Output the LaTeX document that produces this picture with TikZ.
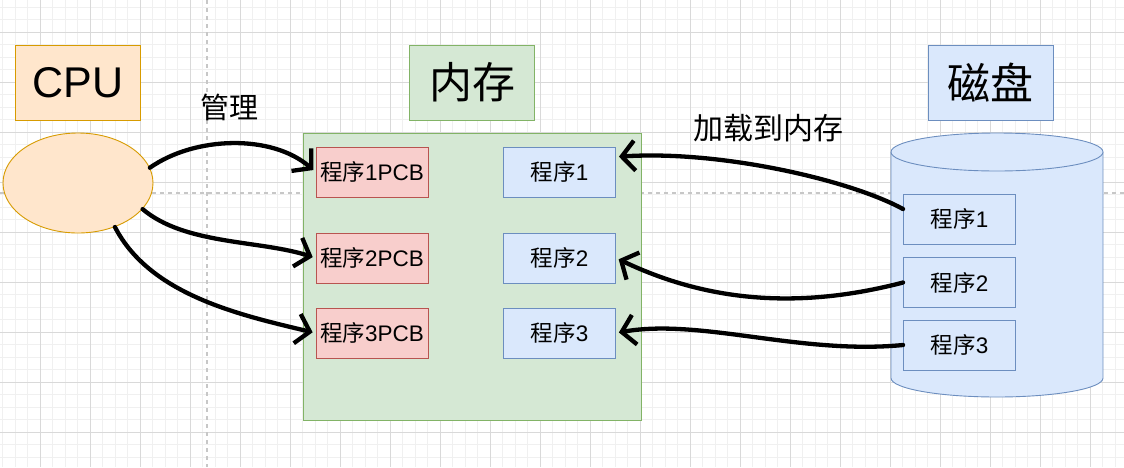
\documentclass[tikz,border=0pt]{standalone}
\usepackage{fontspec}
\setmainfont{Liberation Sans}
\newfontfamily\cjk{Noto Sans CJK SC}
\usetikzlibrary{arrows.meta,shapes.geometric}
\definecolor{cpufill}{HTML}{FFE6CC}
\definecolor{cpuline}{HTML}{D79B00}
\definecolor{memfill}{HTML}{D5E8D4}
\definecolor{memline}{HTML}{82B366}
\definecolor{pcbfill}{HTML}{F8CECC}
\definecolor{pcbline}{HTML}{B85450}
\definecolor{diskfill}{HTML}{DAE8FC}
\definecolor{diskline}{HTML}{6C8EBF}
\begin{document}
\begin{tikzpicture}[x=1pt,y=-1pt,
  minorgrid/.style={draw=black!6, line width=0.8pt},
  majorgrid/.style={draw=black!15, line width=0.8pt},
  pagebreak/.style={draw=black!22, line width=1.2pt, dash pattern=on 4pt off 4pt},
  headbox/.style={draw, line width=0.9pt, inner sep=0pt, minimum width=125pt, minimum height=75pt, font=\fontsize{43}{50}\selectfont},
  smallbox/.style={draw, line width=0.9pt, inner sep=0pt, minimum width=112pt, minimum height=50pt, font=\fontsize{22.5}{26}\selectfont},
  cpucol/.style={fill=cpufill, draw=cpuline},
  memcol/.style={fill=memfill, draw=memline},
  pcbcol/.style={fill=pcbfill, draw=pcbline},
  diskcol/.style={fill=diskfill, draw=diskline},
  arr/.style={line width=4.3pt, line cap=round, line join=round, shorten >=3pt, -{Straight Barb[length=13pt, width=30pt]}}]
\useasboundingbox (0,0) rectangle (1124,467);
\fill[white] (0,0) rectangle (1124,467);
\foreach \gx in {2.5,15,...,1124} \draw[minorgrid] (\gx,0) -- (\gx,467);
\foreach \gy in {7,19.5,...,467} \draw[minorgrid] (0,\gy) -- (1124,\gy);
\foreach \gx in {40,90,...,1124} \draw[majorgrid] (\gx,0) -- (\gx,467);
\foreach \gy in {32,82,...,467} \draw[majorgrid] (0,\gy) -- (1124,\gy);
\draw[pagebreak] (207,0) -- (207,467);
\draw[pagebreak] (0,193) -- (1124,193);

\node[headbox, cpucol] (cpuhead) at (78,82.5) {CPU};
\node[ellipse, cpucol, line width=0.9pt, minimum width=150pt, minimum height=100pt] (cpu) at (78,183) {};
\node[font=\cjk\fontsize{29}{34}\selectfont] (manage) at (229,107) {管理};

\node[headbox, memcol, font=\cjk\fontsize{43}{50}\selectfont] (memhead) at (472,82.5) {内存};
\node[memcol, line width=0.9pt, minimum width=338pt, minimum height=287pt] (mem) at (472,276.5) {};
\node[smallbox, pcbcol] (pcb1) at (372,172) {{\cjk 程序}1PCB};
\node[smallbox, pcbcol] (pcb2) at (372,258) {{\cjk 程序}2PCB};
\node[smallbox, pcbcol] (pcb3) at (372,333) {{\cjk 程序}3PCB};
\node[smallbox, diskcol] (mp1) at (559.5,172) {{\cjk 程序}1};
\node[smallbox, diskcol] (mp2) at (559.5,258) {{\cjk 程序}2};
\node[smallbox, diskcol] (mp3) at (559.5,333) {{\cjk 程序}3};

\node[font=\cjk\fontsize{30}{35}\selectfont] (load) at (768,128) {加载到内存};
\node[headbox, diskcol, font=\cjk\fontsize{43}{50}\selectfont] (diskhead) at (990.5,82.5) {磁盘};
\fill[diskfill] (891,152) rectangle (1103,378);
\fill[diskfill] (997,378) ellipse [x radius=106, y radius=19];
\draw[diskline, line width=0.9pt] (891,152) -- (891,378) .. controls (891,388.5) and (938.5,397) .. (997,397) .. controls (1055.5,397) and (1103,388.5) .. (1103,378) -- (1103,152);
\draw[diskcol, line width=0.9pt] (997,152) ellipse [x radius=106, y radius=19];
\node[smallbox, diskcol] (dp1) at (959.5,219) {{\cjk 程序}1};
\node[smallbox, diskcol] (dp2) at (959.5,282.5) {{\cjk 程序}2};
\node[smallbox, diskcol] (dp3) at (959.5,345) {{\cjk 程序}3};

\draw[arr] (cpu.12) .. controls (195,136) and (272,134) .. (pcb1.west);
\draw[arr] (cpu.-22) .. controls (185,245) and (260,240) .. (pcb2.west);
\draw[arr] (cpu.-50) .. controls (150,295) and (240,315) .. (pcb3.west);
\draw[arr] (dp1.170) .. controls (850,180) and (720,150) .. (mp1.15);
\draw[arr] (dp2.west) .. controls (790,312) and (700,298) .. (mp2.east);
\draw[arr] (dp3.west) .. controls (800,355) and (700,318) .. (mp3.east);
\end{tikzpicture}
\end{document}
